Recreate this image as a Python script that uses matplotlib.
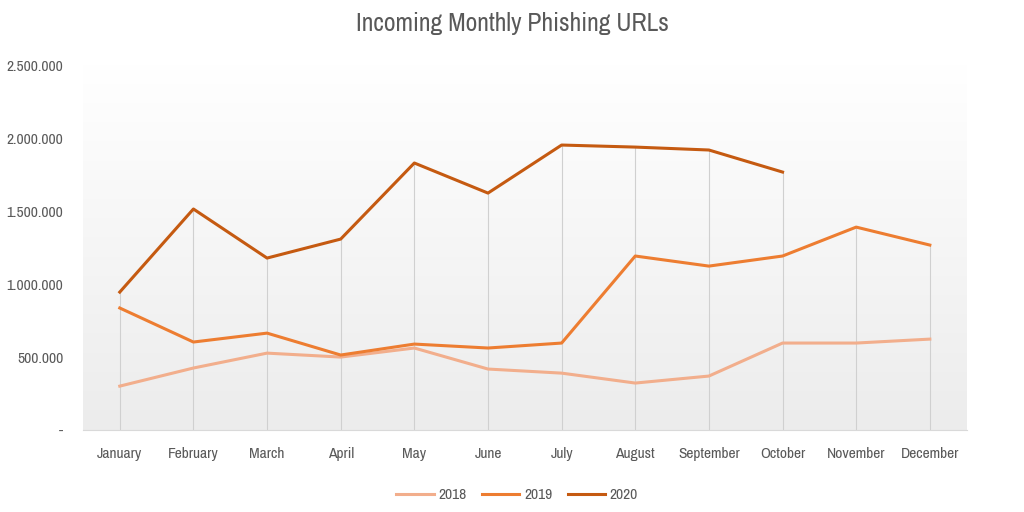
import matplotlib.pyplot as plt
import numpy as np
from matplotlib import font_manager
from matplotlib.colors import LinearSegmentedColormap

months = ['January', 'February', 'March', 'April', 'May', 'June', 'July',
          'August', 'September', 'October', 'November', 'December']
urls_2018 = [301000, 425000, 527000, 500000, 562000, 418000, 390000,
             322000, 370000, 596000, 596000, 623000]
urls_2019 = [836000, 603000, 664000, 514000, 589000, 562000, 596000,
             1192000, 1123000, 1192000, 1390000, 1267000]
urls_2020 = [945000, 1514000, 1178000, 1308000, 1829000, 1623000, 1952000,
             1938000, 1918000, 1767000]
yticks = [0, 500000, 1000000, 1500000, 2000000, 2500000]
ytick_labels = ['-', '500.000', '1.000.000', '1.500.000', '2.000.000', '2.500.000']

# pick a narrow family if one is around, otherwise Open Sans
names = sorted({f.name for f in font_manager.fontManager.ttflist})
narrow = [n for n in names if 'Narrow' in n or 'Condensed' in n]
font = narrow[0] if narrow else 'Open Sans'
plt.rcParams['font.family'] = [font, 'DejaVu Sans']
tick_size = 11.2 if narrow else 9.5
grey = '#595959'

fig = plt.figure(figsize=(10.24, 5.12), dpi=100)
ax = fig.add_axes([0.081, 0.16, 0.863, 0.713])

x = np.arange(len(months))

# plot area gradient (white on top, light grey at bottom)
grad = np.linspace(1.0, 0.0, 256).reshape(-1, 1)
ax.imshow(grad, extent=[-0.5, 11.5, 0, 2500000], aspect='auto',
          cmap=LinearSegmentedColormap.from_list('g', ['#ececec', '#ffffff']),
          zorder=0, origin='upper')

# drop lines from axis to highest value
tops = []
for i in range(len(months)):
    vals = [urls_2018[i], urls_2019[i]]
    if i < len(urls_2020):
        vals.append(urls_2020[i])
    tops.append(max(vals))
ax.vlines(x, 0, tops, color='#d0d0d0', lw=0.8, zorder=1)

ax.plot(x, urls_2018, color='#F2AE8C', lw=2.2, label='2018', zorder=3)
ax.plot(x, urls_2019, color='#ED7D31', lw=2.2, label='2019', zorder=4)
ax.plot(x[:len(urls_2020)], urls_2020, color='#C55A11', lw=2.2, label='2020', zorder=5)

ax.set_xlim(-0.5, 11.5)
ax.set_ylim(0, 2500000)
ax.set_xticks(x)
ax.set_xticklabels(months)
ax.set_yticks(yticks)
ax.set_yticklabels(ytick_labels)
ax.tick_params(axis='both', length=0, labelsize=tick_size, colors=grey)
ax.tick_params(axis='x', pad=12)
ax.tick_params(axis='y', pad=14)
for s in ['top', 'right', 'left']:
    ax.spines[s].set_visible(False)
ax.spines['bottom'].set_color('#d9d9d9')

fig.text(0.5, 0.955, 'Incoming Monthly Phishing URLs', ha='center', va='center',
         fontsize=18.5, color=grey)
fig.legend(loc='center', bbox_to_anchor=(0.505, 0.033), ncol=3, frameon=False,
           fontsize=tick_size, handlelength=2.4, columnspacing=1.0, handletextpad=0.3,
           labelcolor=grey)

plt.savefig('out.png')
